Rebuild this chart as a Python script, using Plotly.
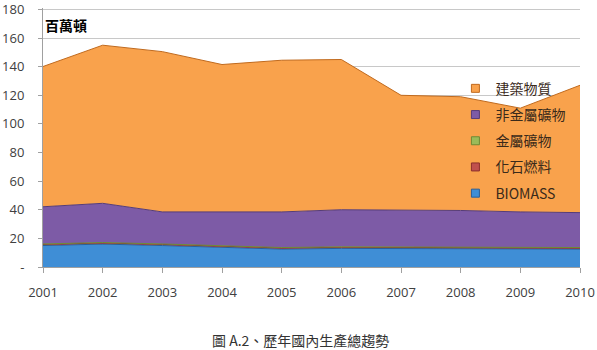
import plotly.graph_objects as go

years = [2001, 2002, 2003, 2004, 2005, 2006, 2007, 2008, 2009, 2010]
biomass = [15, 16, 15, 13.5, 12.5, 13, 13, 13, 12.5, 12.5]
fossil = [0.8, 0.8, 0.8, 0.8, 0.8, 0.8, 0.8, 0.8, 0.8, 0.8]
metal = [0.3, 0.3, 0.3, 0.3, 0.3, 0.3, 0.3, 0.3, 0.3, 0.3]
nonmetal = [26, 27.4, 22.4, 23.9, 24.9, 25.9, 25.9, 25.4, 24.9, 24.4]
construction = [98, 110.5, 112, 103, 106, 105, 80, 79.5, 72.5, 89]

series = [
    ("BIOMASS", biomass, "#3F8ED6", "#2A5F99"),
    ("化石燃料", fossil, "#C0504D", "#8C2F2C"),
    ("金屬礦物", metal, "#9BBB59", "#6E8A35"),
    ("非金屬礦物", nonmetal, "#7D5BA6", "#553C78"),
    ("建築物質", construction, "#F9A24C", "#C06A1E"),
]

fig = go.Figure()
for i, (name, vals, fill, line) in enumerate(series):
    fig.add_trace(go.Scatter(
        x=years, y=vals, name=name, mode="lines", stackgroup="one",
        fillcolor=fill, line=dict(color=line, width=1),
        showlegend=False, hoverinfo="x+y+name",
    ))
# legend entries (square swatches), top to bottom: 建築物質 ... BIOMASS
for i, (name, vals, fill, line) in enumerate(series):
    fig.add_trace(go.Scatter(
        x=[None], y=[None], name=name, mode="markers",
        marker=dict(symbol="square", size=8, color=fill,
                    line=dict(color=line, width=1)),
        legendgroup=str(i), legendrank=100 - i, showlegend=True,
    ))

ytick_vals = [0, 20, 40, 60, 80, 100, 120, 140, 160, 180]
ytick_text = ["-", "20", "40", "60", "80", "100", "120", "140", "160", "180"]

fig.update_layout(
    width=597, height=350,
    margin=dict(l=43, r=17, t=8, b=83, autoexpand=False),
    paper_bgcolor="white", plot_bgcolor="white",
    font=dict(family="Open Sans, Lato, sans-serif", size=13, color="#404040"),
    showlegend=True,
    legend=dict(
        x=0.768, y=0.75, xanchor="left", yanchor="top",
        bgcolor="rgba(0,0,0,0)", traceorder="grouped",
        tracegroupgap=5, itemwidth=30,
        font=dict(family="Noto Sans CJK TC", size=14, color="#3a2a1a"),
    ),
    xaxis=dict(
        range=[2001, 2010], tickvals=years, ticktext=[str(y) for y in years],
        showgrid=False, zeroline=False, showline=True, linecolor="#a0a0a0",
        ticks="outside", ticklen=5, tickcolor="#a0a0a0", ticklabelstandoff=8,
        automargin=False,
    ),
    yaxis=dict(
        range=[0, 181], tickvals=ytick_vals, ticktext=ytick_text,
        showgrid=True, gridcolor="#c8c8c8", zeroline=False,
        showline=True, linecolor="#a0a0a0", ticklabeloverflow="allow",
        ticks="outside", ticklen=4, tickcolor="#a0a0a0", ticklabelstandoff=11,
        automargin=False,
    ),
    annotations=[
        dict(text="<b>百萬頓</b>", xref="paper", yref="paper", x=0.0, y=0.935,
             xanchor="left", yanchor="middle", showarrow=False,
             font=dict(family="Noto Sans CJK TC", size=14, color="#000000")),
        dict(text="圖 A.2、歷年國內生產總趨勢", xref="paper", yref="paper",
             x=(300 - 43) / 537, y=-(340 - 267) / 259, xanchor="center",
             yanchor="middle", showarrow=False,
             font=dict(family="Noto Sans CJK TC", size=14, color="#333333")),
    ],
)

fig.write_html("out.html")
